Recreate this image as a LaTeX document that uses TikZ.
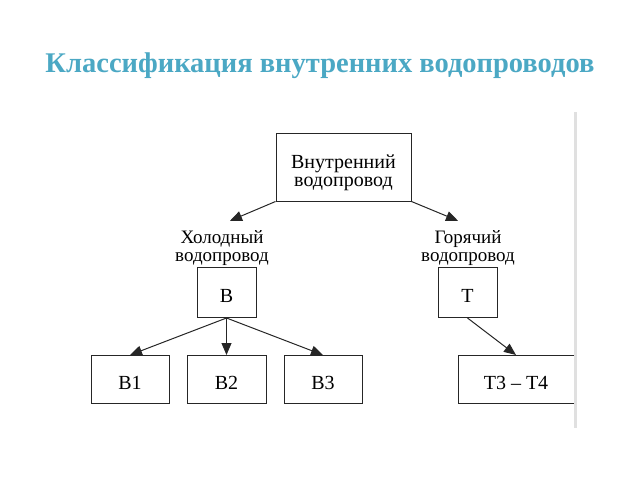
\documentclass[tikz,border=0pt]{standalone}
\usepackage{fontspec}
\setmainfont{Liberation Serif}
\usepackage{tikz}
\usetikzlibrary{arrows.meta,positioning}
\definecolor{titleblue}{RGB}{75,168,196}
\tikzset{box/.style={draw=black!85,line width=1pt,rectangle,inner sep=0pt,font=\fontsize{20}{18.5}\selectfont},
  onebox/.style={box,text height=19pt,text depth=0pt},
  boxtext/.style={inner sep=0pt,align=center,font=\fontsize{20}{18.5}\selectfont},
  lbl/.style={inner sep=0pt,align=center,font=\fontsize{19}{18}\selectfont},
  arr/.style={-{Triangle[length=12pt,width=10pt]},line width=1pt,draw=black!85}}

\begin{document}
\begin{tikzpicture}[x=1pt,y=-1pt]
\useasboundingbox (0,0) rectangle (640,480);
\node[font=\fontsize{28.5}{30}\selectfont\bfseries,text=titleblue,anchor=base] (title) at (320,72) {Классификация внутренних водопроводов};
% upper level
\node[box,minimum width=135pt,minimum height=68pt,
  label={[boxtext,yshift=-6pt]center:{Внутренний\\водопровод}}] (inner) at (343.5,167) {};
\node[lbl] (cold) at (222,248.5) {Холодный\\водопровод};
\node[lbl] (hot) at (468,248.5) {Горячий\\водопровод};
\node[onebox,minimum width=59pt,minimum height=50pt] (b) at (226.5,292.5) {В};
\node[onebox,minimum width=59pt,minimum height=50pt] (t) at (467.5,292.5) {Т};
% lower level
\node[onebox,minimum width=78pt,minimum height=48pt] (b1) at (130,379.5) {В1};
\node[onebox,minimum width=79pt,minimum height=48pt] (b2) at (226.5,379.5) {В2};
\node[onebox,minimum width=78pt,minimum height=48pt] (b3) at (323,379.5) {В3};
\node[onebox,minimum width=116pt,minimum height=48pt] (t34) at (516,379.5) {Т3 -- Т4};
\coordinate (edge top) at (575.5,112);
\coordinate (edge bot) at (575.5,428);
\draw[black!12,line width=3pt] (edge top) -- (edge bot);
\draw[arr] (inner.south west) -- ([xshift=8pt,yshift=10pt]cold.north);
\draw[arr] (inner.south east) -- ([xshift=-10pt,yshift=10pt]hot.north);
\draw[arr] (b.south) -- (b1.north);
\draw[arr] (b.south) -- (b2.north);
\draw[arr] (b.south) -- (b3.north);
\draw[arr] (t.south) -- (t34.north);
\end{tikzpicture}
\end{document}
